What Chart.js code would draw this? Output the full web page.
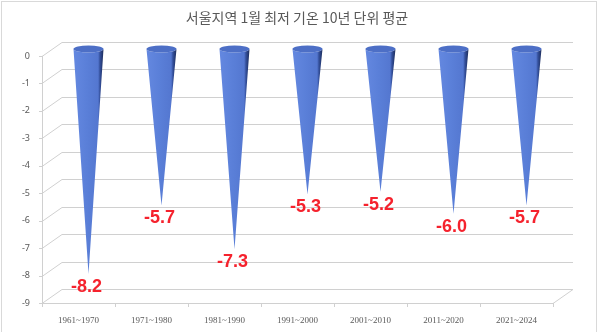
<!DOCTYPE html>
<html>
<head>
<meta charset="utf-8">
<script src="https://cdn.jsdelivr.net/npm/chart.js@4/dist/chart.umd.min.js"></script>
<style>
  html, body { margin: 0; padding: 0; background: #fff; }
  #wrap { width: 600px; height: 332px; position: relative; }
</style>
</head>
<body>
<div id="wrap"><canvas id="chart"></canvas></div>
<script>
// 서울지역 1월 최저 기온, 10년 단위 평균
const decades = ['1961~1970', '1971~1980', '1981~1990', '1991~2000', '2001~2010', '2011~2020', '2021~2024'];
const minTemps = [-8.2, -5.7, -7.3, -5.3, -5.2, -6.0, -5.7];
const yTicks = [0, -1, -2, -3, -4, -5, -6, -7, -8, -9];

const chartTitle = '서울지역 1월 최저 기온 10년 단위 평균';

// depth of the fake 3d box
const DX = 20, DY = 14;
const gridColor = '#d0d0d0';
const textColor = '#595959';

const box3d = {
  id: 'box3d',
  beforeDatasetsDraw(chart) {
    const ctx = chart.ctx;
    const y = chart.scales.y, x = chart.scales.x;
    const L = chart.chartArea.left, R = chart.chartArea.right, B = chart.chartArea.bottom;
    ctx.save();
    ctx.strokeStyle = gridColor;
    ctx.lineWidth = 1;
    yTicks.forEach(v => {
      const py = Math.round(y.getPixelForValue(v)) + 0.5;
      ctx.beginPath();
      ctx.moveTo(L, py);
      ctx.lineTo(L + DX, py - DY);
      ctx.lineTo(R + DX, py - DY);
      ctx.stroke();
      // small tick on the front axis
      ctx.beginPath();
      ctx.moveTo(L - 3, py);
      ctx.lineTo(L, py);
      ctx.stroke();
    });
    // front axis lines
    ctx.beginPath();
    ctx.moveTo(L + 0.5, y.getPixelForValue(0));
    ctx.lineTo(L + 0.5, B + 0.5);
    ctx.lineTo(R, B + 0.5);
    ctx.lineTo(R + DX, B + 0.5 - DY);
    ctx.stroke();
    // category ticks
    for (let i = 0; i <= decades.length; i++) {
      const px = Math.round(L + (R - L) * i / decades.length) + 0.5;
      ctx.beginPath();
      ctx.moveTo(px, B);
      ctx.lineTo(px, B + 4);
      ctx.stroke();
    }
    ctx.restore();

    // title
    ctx.save();
    ctx.fillStyle = textColor;
    ctx.font = '14px "Noto Sans CJK KR"';
    ctx.textAlign = 'center';
    ctx.textBaseline = 'middle';
    ctx.fillText(chartTitle, 297, 18);
    // outer frame
    ctx.strokeStyle = '#d9d9d9';
    ctx.strokeRect(1.5, 1.5, 595, 340);
    ctx.restore();
  },
  afterDatasetsDraw(chart) {
    const ctx = chart.ctx;
    const meta = chart.getDatasetMeta(0);
    const r = 15, ry = 3.5;
    meta.data.forEach((bar, i) => {
      const cx = bar.x + DX / 2;
      const top = bar.base - DY / 2;
      const tip = bar.y - DY / 2;
      ctx.save();
      const g = ctx.createLinearGradient(cx - r, 0, cx + r, 0);
      g.addColorStop(0, '#6488e0');
      g.addColorStop(0.45, '#5a7fd8');
      g.addColorStop(0.82, '#5477d0');
      g.addColorStop(0.88, '#34509c');
      g.addColorStop(1, '#1c2c5a');
      ctx.fillStyle = g;
      ctx.beginPath();
      ctx.moveTo(cx - r, top);
      ctx.ellipse(cx, top, r, ry, 0, Math.PI, 0, true);
      ctx.lineTo(cx, tip);
      ctx.closePath();
      ctx.fill();
      // top face
      ctx.fillStyle = '#4d6fc6';
      ctx.beginPath();
      ctx.ellipse(cx, top, r, ry, 0, 0, Math.PI * 2);
      ctx.fill();
      // value label
      ctx.fillStyle = '#f5222d';
      ctx.font = 'bold 18px "Liberation Sans"';
      ctx.textAlign = 'center';
      ctx.textBaseline = 'middle';
      ctx.fillText(minTemps[i].toFixed(1), cx - 2, tip + 13);
      ctx.restore();
    });
  }
};

new Chart(document.getElementById('chart'), {
  type: 'bar',
  data: {
    labels: decades,
    datasets: [{
      data: minTemps,
      backgroundColor: 'rgba(0,0,0,0)',
      borderWidth: 0
    }]
  },
  options: {
    responsive: true,
    maintainAspectRatio: false,
    animation: false,
    layout: { padding: { top: 56, right: 47, bottom: 0, left: 0 } },
    plugins: {
      legend: { display: false },
      tooltip: { enabled: false },
      title: { display: false }
    },
    scales: {
      x: {
        grid: { display: false, drawTicks: false },
        border: { display: false },
        ticks: { color: textColor, font: { family: 'Liberation Serif', size: 9 }, padding: 12, maxRotation: 0 },
        afterFit(scale) { scale.height = 29; }
      },
      y: {
        min: -9,
        max: 0,
        grid: { display: false, drawTicks: false },
        border: { display: false },
        ticks: { stepSize: 1, color: textColor, font: { family: 'Noto Sans', size: 9 }, padding: 12 },
        afterFit(scale) { scale.width = 42; }
      }
    }
  },
  plugins: [box3d]
});
</script>
</body>
</html>
